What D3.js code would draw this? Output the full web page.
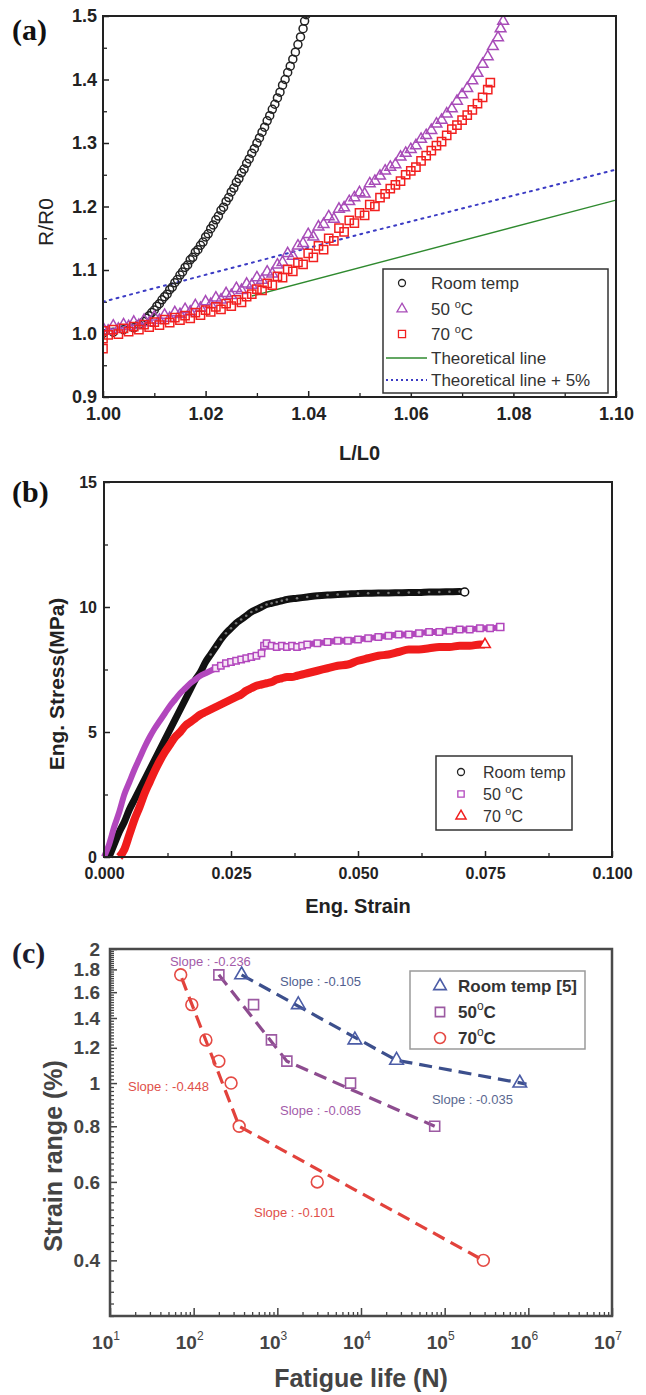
<!DOCTYPE html>
<html>
<head>
<meta charset="utf-8">
<script src="https://cdn.jsdelivr.net/npm/d3@7"></script>
<style>
body { margin: 0; background: #fff; }
svg { display: block; }
</style>
</head>
<body>
<svg id="fig" width="646" height="1395"></svg>
<script>
// ---------- panel (a): R/R0 vs L/L0 ----------
var roomA = [[1.000,1.000],[1.002,1.002],[1.004,1.006],[1.006,1.009],[1.007,1.014],[1.008,1.019],[1.0085,1.024],[1.009,1.028],[1.0095,1.033],[1.010,1.037],[1.0105,1.043],[1.011,1.047],[1.0115,1.053],[1.012,1.058],[1.0125,1.062],[1.013,1.069],[1.0135,1.073],[1.014,1.080],[1.0145,1.085],[1.015,1.092],[1.0155,1.097],[1.016,1.104],[1.0165,1.108],[1.017,1.116],[1.0175,1.120],[1.018,1.128],[1.0185,1.132],[1.019,1.139],[1.0195,1.144],[1.020,1.152],[1.0205,1.157],[1.021,1.165],[1.0215,1.171],[1.022,1.179],[1.0225,1.185],[1.023,1.194],[1.0235,1.199],[1.024,1.208],[1.0245,1.214],[1.025,1.223],[1.0255,1.229],[1.026,1.238],[1.0265,1.244],[1.027,1.253],[1.0275,1.259],[1.028,1.268],[1.0285,1.275],[1.029,1.284],[1.0295,1.291],[1.030,1.300],[1.0305,1.308],[1.031,1.317],[1.0315,1.325],[1.032,1.335],[1.0325,1.343],[1.033,1.353],[1.0335,1.361],[1.034,1.371],[1.0345,1.380],[1.035,1.391],[1.0355,1.400],[1.036,1.411],[1.0365,1.421],[1.037,1.432],[1.0375,1.443],[1.038,1.455],[1.0385,1.467],[1.039,1.480],[1.0393,1.492],[1.0396,1.502]]

var fiftyA = [[1.000,1.008],[1.001,1.004],[1.002,1.012],[1.003,1.007],[1.004,1.014],[1.005,1.011],[1.006,1.018],[1.007,1.013],[1.008,1.021],[1.009,1.017],[1.010,1.026],[1.011,1.021],[1.012,1.029],[1.013,1.024],[1.014,1.033],[1.015,1.030],[1.016,1.038],[1.017,1.034],[1.018,1.044],[1.019,1.040],[1.020,1.050],[1.021,1.046],[1.022,1.056],[1.023,1.053],[1.024,1.063],[1.025,1.060],[1.026,1.071],[1.027,1.068],[1.028,1.078],[1.029,1.076],[1.030,1.088],[1.031,1.084],[1.032,1.097],[1.033,1.094],[1.034,1.108],[1.035,1.112],[1.036,1.126],[1.037,1.122],[1.038,1.138],[1.039,1.142],[1.040,1.156],[1.041,1.152],[1.042,1.168],[1.043,1.172],[1.044,1.184],[1.045,1.180],[1.046,1.196],[1.047,1.198],[1.048,1.208],[1.049,1.214],[1.050,1.222],[1.051,1.220],[1.052,1.236],[1.053,1.240],[1.054,1.248],[1.055,1.256],[1.056,1.262],[1.057,1.266],[1.058,1.278],[1.059,1.284],[1.060,1.290],[1.061,1.296],[1.062,1.306],[1.063,1.312],[1.064,1.320],[1.065,1.330],[1.066,1.336],[1.067,1.346],[1.068,1.354],[1.069,1.366],[1.070,1.376],[1.071,1.386],[1.072,1.398],[1.073,1.410],[1.074,1.424],[1.075,1.436],[1.076,1.452],[1.077,1.466],[1.0775,1.480],[1.078,1.492]]

var seventyA = [[1.000,0.976],[1.000,0.992],[1.000,1.004],[1.001,0.998],[1.002,1.006],[1.003,0.999],[1.004,1.008],[1.005,1.003],[1.006,1.011],[1.007,1.006],[1.008,1.014],[1.009,1.010],[1.010,1.018],[1.011,1.013],[1.012,1.022],[1.013,1.017],[1.014,1.025],[1.015,1.021],[1.016,1.028],[1.017,1.024],[1.018,1.033],[1.019,1.029],[1.020,1.037],[1.021,1.034],[1.022,1.042],[1.023,1.038],[1.024,1.047],[1.025,1.043],[1.026,1.053],[1.027,1.049],[1.028,1.058],[1.029,1.062],[1.030,1.070],[1.031,1.068],[1.032,1.079],[1.033,1.076],[1.034,1.090],[1.035,1.088],[1.036,1.101],[1.037,1.098],[1.038,1.112],[1.039,1.109],[1.040,1.126],[1.041,1.120],[1.042,1.138],[1.043,1.132],[1.044,1.150],[1.045,1.146],[1.046,1.166],[1.047,1.160],[1.048,1.178],[1.049,1.174],[1.050,1.190],[1.051,1.186],[1.052,1.203],[1.053,1.200],[1.054,1.214],[1.055,1.220],[1.056,1.228],[1.057,1.234],[1.058,1.240],[1.059,1.250],[1.060,1.256],[1.061,1.262],[1.062,1.272],[1.063,1.280],[1.064,1.288],[1.065,1.296],[1.066,1.302],[1.067,1.312],[1.068,1.322],[1.069,1.328],[1.070,1.336],[1.071,1.344],[1.072,1.352],[1.073,1.362],[1.074,1.372],[1.075,1.384],[1.0755,1.395]]

var theoryA = [[1.029,1.059],[1.10,1.21]]
var theoryPlusA = [[1.00,1.05],[1.05,1.156],[1.10,1.258]]

var xTicksA = [1.00,1.02,1.04,1.06,1.08,1.10]
var xMinorA = [1.01,1.03,1.05,1.07,1.09]
var yTicksA = [0.9,1.0,1.1,1.2,1.3,1.4,1.5]
var yMinorA = [0.95,1.05,1.15,1.25,1.35,1.45]

// ---------- panel (b): stress vs strain ----------
var roomB = [[0.001,0.0],[0.002,0.5],[0.003,1.0],[0.004,1.4],[0.005,1.9],[0.006,2.3],[0.007,2.7],[0.008,3.1],[0.009,3.5],[0.010,3.9],[0.011,4.3],[0.012,4.7],[0.013,5.1],[0.014,5.5],[0.015,5.9],[0.016,6.3],[0.017,6.7],[0.018,7.1],[0.019,7.4],[0.020,7.8],[0.021,8.1],[0.022,8.4],[0.023,8.7],[0.024,8.95],[0.025,9.15],[0.026,9.35],[0.027,9.5],[0.028,9.65],[0.029,9.8],[0.030,9.9],[0.031,10.0],[0.032,10.1],[0.033,10.15],[0.034,10.2],[0.035,10.25],[0.036,10.3],[0.038,10.35],[0.040,10.4],[0.042,10.45],[0.044,10.48],[0.046,10.5],[0.048,10.52],[0.050,10.54],[0.052,10.55],[0.054,10.56],[0.056,10.56],[0.058,10.57],[0.060,10.58],[0.062,10.58],[0.064,10.6],[0.066,10.6],[0.068,10.61],[0.070,10.62],[0.071,10.6]]

var fiftyB = [[0.000,0.0],[0.001,0.5],[0.002,1.2],[0.003,1.8],[0.004,2.5],[0.005,3.0],[0.006,3.5],[0.007,3.95],[0.008,4.4],[0.009,4.8],[0.010,5.15],[0.011,5.45],[0.012,5.75],[0.013,6.05],[0.014,6.3],[0.015,6.55],[0.016,6.75],[0.017,6.95],[0.018,7.1],[0.019,7.25],[0.020,7.35],[0.021,7.45],[0.022,7.55],[0.023,7.65],[0.024,7.75],[0.025,7.8],[0.026,7.85],[0.027,7.9],[0.028,7.95],[0.029,8.0],[0.030,8.05],[0.031,8.15],[0.0315,8.45],[0.032,8.55],[0.033,8.45],[0.034,8.4],[0.035,8.45],[0.036,8.4],[0.037,8.45],[0.038,8.4],[0.039,8.45],[0.040,8.5],[0.042,8.55],[0.044,8.6],[0.046,8.65],[0.048,8.65],[0.050,8.7],[0.052,8.75],[0.054,8.8],[0.056,8.85],[0.058,8.9],[0.060,8.9],[0.062,8.95],[0.064,9.0],[0.066,9.0],[0.068,9.05],[0.070,9.1],[0.072,9.1],[0.074,9.15],[0.076,9.15],[0.078,9.2]]

var seventyB = [[0.003,0.0],[0.004,0.3],[0.005,0.9],[0.006,1.5],[0.007,2.0],[0.008,2.55],[0.009,3.0],[0.010,3.45],[0.011,3.85],[0.012,4.2],[0.013,4.5],[0.014,4.8],[0.015,5.0],[0.016,5.25],[0.017,5.4],[0.018,5.55],[0.019,5.7],[0.020,5.8],[0.021,5.9],[0.022,6.0],[0.023,6.1],[0.024,6.2],[0.025,6.3],[0.026,6.4],[0.027,6.5],[0.028,6.65],[0.029,6.75],[0.030,6.85],[0.031,6.9],[0.032,6.95],[0.033,7.0],[0.034,7.1],[0.035,7.15],[0.036,7.2],[0.037,7.2],[0.038,7.25],[0.039,7.3],[0.040,7.35],[0.042,7.45],[0.044,7.55],[0.046,7.65],[0.048,7.7],[0.050,7.85],[0.052,7.95],[0.054,8.05],[0.056,8.1],[0.058,8.2],[0.060,8.3],[0.062,8.3],[0.064,8.35],[0.066,8.4],[0.068,8.4],[0.070,8.45],[0.072,8.45],[0.074,8.5],[0.075,8.5]]

var xTicksB = [0,0.025,0.05,0.075,0.1]
var xMinorB = [0.0125,0.0375,0.0625,0.0875]
var yTicksB = [0,5,10,15]
var yMinorB = [2.5,7.5,12.5]

// ---------- panel (c): strain range vs fatigue life ----------
var roomC = [[374,1.75],[1780,1.5],[8450,1.25],[26600,1.125],[790000,1.0]]
var fiftyC = [[200,1.75],[520,1.5],[850,1.25],[1300,1.12],[7500,1.0],[76000,0.8]]
var seventyC = [[70,1.75],[95,1.5],[140,1.25],[200,1.12],[280,1.0],[350,0.8],[3000,0.6],[290000,0.4]]

// fitted lines (two slopes each)
var roomFitC = [[374,1.75],[26600,1.125],[950000,0.995]]
var fiftyFitC = [[200,1.75],[1300,1.12],[76000,0.8]]
var seventyFitC = [[72,1.72],[350,0.8],[290000,0.4]]

var slopeNotes = [
   {text: "Slope : -0.236", n: 52, s: 1.83, color: "#a35ba9"},
   {text: "Slope : -0.105", n: 1076, s: 1.652, color: "#51608f"},
   {text: "Slope : -0.448", n: 16.4, s: 0.96, color: "#e0504a"},
   {text: "Slope : -0.085", n: 1076, s: 0.848, color: "#a35ba9"},
   {text: "Slope : -0.035", n: 70500, s: 0.897, color: "#5a6890"},
   {text: "Slope : -0.101", n: 526, s: 0.50, color: "#e0504a"}
]

var yTicksC = [0.4,0.6,0.8,1,1.2,1.4,1.6,1.8,2]
var xExpC = [1,2,3,4,5,6,7]

var SANS = "'Liberation Sans', Arial, Helvetica, sans-serif"
var SERIF = "'Liberation Serif', 'Times New Roman', serif"

var svg = d3.select("#fig")

function frame(g, x, y, color, w) {
   g.append("rect")
      .attr("x", x.range()[0])
      .attr("y", y.range()[1])
      .attr("width", x.range()[1] - x.range()[0])
      .attr("height", y.range()[0] - y.range()[1])
      .attr("fill", "none")
      .attr("stroke", color)
      .attr("stroke-width", w)
}

function styleAxis(sel, color, size, weight) {
   sel.select(".domain").remove()
   sel.selectAll(".tick line").attr("stroke", color).attr("stroke-width", 1.5)
   sel.selectAll(".tick text")
      .attr("fill", color)
      .style("font-family", SANS)
      .style("font-size", size + "px")
      .style("font-weight", weight)
}

function minorTicks(g, axis, tr, color) {
   let m = g.append("g").attr("transform", tr).call(axis)
   m.select(".domain").remove()
   m.selectAll(".tick line").attr("stroke", color).attr("stroke-width", 1.3)
}

function panelLabel(txt, x, y, color) {
   svg.append("text")
      .attr("x", x).attr("y", y)
      .attr("fill", color)
      .style("font-family", SERIF)
      .style("font-weight", "bold")
      .style("font-size", "30px")
      .text(txt)
}

function tempText(sel, num) {
   sel.append("tspan").text(num + " ")
   sel.append("tspan").attr("dy", -7).style("font-size", "11px").text("o")
   sel.append("tspan").attr("dy", 7).text("C")
}

// ======================= (a) =======================
var ax = d3.scaleLinear().domain([1.0, 1.1]).range([103, 616])
var ay = d3.scaleLinear().domain([0.9, 1.5]).range([397, 16])
var gA = svg.append("g")

gA.append("g").attr("transform", "translate(0," + ay.range()[0] + ")")
   .call(d3.axisBottom(ax).tickValues(xTicksA).tickFormat(d3.format(".2f")).tickSizeInner(-6).tickSizeOuter(0).tickPadding(10))
   .call(styleAxis, "#222", 18, "bold")
gA.append("g").attr("transform", "translate(" + ax.range()[0] + ",0)")
   .call(d3.axisLeft(ay).tickValues(yTicksA).tickFormat(d3.format(".1f")).tickSizeInner(-6).tickSizeOuter(0).tickPadding(6))
   .call(styleAxis, "#222", 18, "bold")
minorTicks(gA, d3.axisBottom(ax).tickValues(xMinorA).tickFormat("").tickSizeInner(-4).tickSizeOuter(0), "translate(0," + ay.range()[0] + ")", "#222")
minorTicks(gA, d3.axisLeft(ay).tickValues(yMinorA).tickFormat("").tickSizeInner(-4).tickSizeOuter(0), "translate(" + ax.range()[0] + ",0)", "#222")

gA.append("clipPath").attr("id", "clipA").append("rect")
   .attr("x", ax.range()[0]).attr("y", ay.range()[1])
   .attr("width", ax.range()[1] - ax.range()[0]).attr("height", ay.range()[0] - ay.range()[1])
var plotA = gA.append("g").attr("clip-path", "url(#clipA)")

var lineA = d3.line().x(d => ax(d[0])).y(d => ay(d[1]))
plotA.append("path").datum(theoryA).attr("d", lineA)
   .attr("fill", "none").attr("stroke", "#2f8a2f").attr("stroke-width", 1.4)
plotA.append("path").datum(theoryPlusA).attr("d", lineA)
   .attr("fill", "none").attr("stroke", "#3b3bc4").attr("stroke-width", 2).attr("stroke-dasharray", "2,5")
   .attr("stroke-linecap", "round")

plotA.selectAll("circle.room").data(roomA).enter().append("circle")
   .attr("class", "room")
   .attr("cx", d => ax(d[0])).attr("cy", d => ay(d[1]))
   .attr("r", 4).attr("fill", "none").attr("stroke", "#222").attr("stroke-width", 1.5)

plotA.selectAll("path.fifty").data(fiftyA).enter().append("path")
   .attr("class", "fifty")
   .attr("d", d3.symbol().type(d3.symbolTriangle).size(50))
   .attr("transform", d => "translate(" + ax(d[0]) + "," + ay(d[1]) + ")")
   .attr("fill", "none").attr("stroke", "#a84cb8").attr("stroke-width", 1.5)

plotA.selectAll("path.seventy").data(seventyA).enter().append("path")
   .attr("class", "seventy")
   .attr("d", d3.symbol().type(d3.symbolSquare).size(68))
   .attr("transform", d => "translate(" + ax(d[0]) + "," + ay(d[1]) + ")")
   .attr("fill", "none").attr("stroke", "#f22020").attr("stroke-width", 1.5)

frame(gA, ax, ay, "#222", 2)

// legend (a)
var legA = gA.append("g")
legA.append("rect").attr("x", 383).attr("y", 269).attr("width", 225).attr("height", 124)
   .attr("fill", "#fff").attr("stroke", "#333").attr("stroke-width", 1.5)
var legAItems = [
   {label: "Room temp", kind: "circle", color: "#222"},
   {label: "50", kind: "tri", color: "#a84cb8"},
   {label: "70", kind: "sq", color: "#f22020"},
   {label: "Theoretical line", kind: "line", color: "#2f8a2f"},
   {label: "Theoretical line + 5%", kind: "dot", color: "#3b3bc4"}
]
var legAy = [283, 309, 334, 358, 380]
legAItems.forEach(function(it, i) {
   let y = legAy[i]
   if(it.kind == "circle") {
      legA.append("circle").attr("cx", 402).attr("cy", y).attr("r", 3.5)
         .attr("fill", "none").attr("stroke", it.color).attr("stroke-width", 1.3)
   } else if(it.kind == "tri" || it.kind == "sq") {
      legA.append("path")
         .attr("d", d3.symbol().type(it.kind == "tri" ? d3.symbolTriangle : d3.symbolSquare).size(it.kind == "tri" ? 44 : 50))
         .attr("transform", "translate(402," + y + ")")
         .attr("fill", "none").attr("stroke", it.color).attr("stroke-width", 1.3)
   } else {
      legA.append("line").attr("x1", 386).attr("x2", 427).attr("y1", y).attr("y2", y)
         .attr("stroke", it.color).attr("stroke-width", it.kind == "dot" ? 2 : 1.4)
         .attr("stroke-dasharray", it.kind == "dot" ? "2,3" : null)
   }
   let t = legA.append("text").attr("x", 431).attr("y", y + 6)
      .attr("fill", "#333").style("font-family", SANS).style("font-size", "17px")
   if(it.kind == "tri" || it.kind == "sq") tempText(t, it.label)
   else t.text(it.label)
})

gA.append("text").attr("x", d3.mean(ax.range())).attr("y", 460)
   .attr("text-anchor", "middle").attr("fill", "#222")
   .style("font-family", SANS).style("font-size", "20px").style("font-weight", "bold")
   .text("L/L0")
gA.append("text").attr("transform", "translate(53,222) rotate(-90)")
   .attr("text-anchor", "middle").attr("fill", "#222")
   .style("font-family", SANS).style("font-size", "21px")
   .text("R/R0")
panelLabel("(a)", 12, 40, "#111")

// ======================= (b) =======================
var bx = d3.scaleLinear().domain([0, 0.1]).range([104, 612])
var by = d3.scaleLinear().domain([0, 15]).range([857, 482])
var gB = svg.append("g")

gB.append("g").attr("transform", "translate(0," + by.range()[0] + ")")
   .call(d3.axisBottom(bx).tickValues(xTicksB).tickFormat(d3.format(".3f")).tickSizeInner(-6).tickSizeOuter(0).tickPadding(11))
   .call(styleAxis, "#222", 16, "bold")
gB.append("g").attr("transform", "translate(" + bx.range()[0] + ",0)")
   .call(d3.axisLeft(by).tickValues(yTicksB).tickFormat(d3.format("d")).tickSizeInner(-6).tickSizeOuter(0).tickPadding(7))
   .call(styleAxis, "#222", 16, "bold")
minorTicks(gB, d3.axisBottom(bx).tickValues(xMinorB).tickFormat("").tickSizeInner(-4).tickSizeOuter(0), "translate(0," + by.range()[0] + ")", "#222")
minorTicks(gB, d3.axisLeft(by).tickValues(yMinorB).tickFormat("").tickSizeInner(-4).tickSizeOuter(0), "translate(" + bx.range()[0] + ",0)", "#222")

var lineB = d3.line().x(d => bx(d[0])).y(d => by(d[1])).curve(d3.curveMonotoneX)

// room temp (black circles)
gB.append("path").datum(roomB).attr("d", lineB)
   .attr("fill", "none").attr("stroke", "#111").attr("stroke-width", 7).attr("stroke-linejoin", "round")
gB.selectAll("circle.roomB").data(roomB.slice(20)).enter().append("circle")
   .attr("class", "roomB")
   .attr("cx", d => bx(d[0])).attr("cy", d => by(d[1])).attr("r", 1.3)
   .attr("fill", "#777").attr("stroke", "none")

// 70 C (red triangles)
gB.append("path").datum(seventyB).attr("d", lineB)
   .attr("fill", "none").attr("stroke", "#f01c1c").attr("stroke-width", 8).attr("stroke-linejoin", "round")

// 50 C (purple squares)
gB.append("path").datum(fiftyB).attr("d", lineB)
   .attr("fill", "none").attr("stroke", "#b247bd").attr("stroke-width", 6).attr("stroke-linejoin", "round")
gB.selectAll("path.fiftyB").data(fiftyB.slice(22)).enter().append("path")
   .attr("class", "fiftyB")
   .attr("d", d3.symbol().type(d3.symbolSquare).size(40))
   .attr("transform", d => "translate(" + bx(d[0]) + "," + by(d[1]) + ")")
   .attr("fill", "#f6e6f6").attr("stroke", "#b247bd").attr("stroke-width", 1.5)

// end markers
var lastRoom = roomB[roomB.length - 1]
gB.append("circle").attr("cx", bx(lastRoom[0])).attr("cy", by(lastRoom[1])).attr("r", 4)
   .attr("fill", "#fff").attr("stroke", "#111").attr("stroke-width", 1.5)
var lastSev = seventyB[seventyB.length - 1]
gB.append("path").attr("d", d3.symbol().type(d3.symbolTriangle).size(50))
   .attr("transform", "translate(" + bx(lastSev[0]) + "," + by(lastSev[1]) + ")")
   .attr("fill", "#fff").attr("stroke", "#f01c1c").attr("stroke-width", 1.5)
var lastFif = fiftyB[fiftyB.length - 1]
gB.append("path").attr("d", d3.symbol().type(d3.symbolSquare).size(50))
   .attr("transform", "translate(" + bx(lastFif[0]) + "," + by(lastFif[1]) + ")")
   .attr("fill", "#fff").attr("stroke", "#b247bd").attr("stroke-width", 1.5)

frame(gB, bx, by, "#222", 2)

// legend (b)
var legB = gB.append("g")
legB.append("rect").attr("x", 436).attr("y", 756).attr("width", 136).attr("height", 74)
   .attr("fill", "#fff").attr("stroke", "#333").attr("stroke-width", 1.5)
var legBy = [772, 794, 816]
legB.append("circle").attr("cx", 461).attr("cy", legBy[0]).attr("r", 3.5)
   .attr("fill", "none").attr("stroke", "#222").attr("stroke-width", 1.3)
legB.append("path").attr("d", d3.symbol().type(d3.symbolSquare).size(40))
   .attr("transform", "translate(461," + legBy[1] + ")")
   .attr("fill", "none").attr("stroke", "#b247bd").attr("stroke-width", 1.3)
legB.append("path").attr("d", d3.symbol().type(d3.symbolTriangle).size(44))
   .attr("transform", "translate(461," + legBy[2] + ")")
   .attr("fill", "none").attr("stroke", "#f01c1c").attr("stroke-width", 1.5)
legB.append("text").attr("x", 483).attr("y", legBy[0] + 6).attr("fill", "#333")
   .style("font-family", SANS).style("font-size", "16px").text("Room temp")
tempText(legB.append("text").attr("x", 483).attr("y", legBy[1] + 6).attr("fill", "#333")
   .style("font-family", SANS).style("font-size", "16px"), "50")
tempText(legB.append("text").attr("x", 483).attr("y", legBy[2] + 6).attr("fill", "#333")
   .style("font-family", SANS).style("font-size", "16px"), "70")

gB.append("text").attr("x", d3.mean(bx.range())).attr("y", 913)
   .attr("text-anchor", "middle").attr("fill", "#222")
   .style("font-family", SANS).style("font-size", "20px").style("font-weight", "bold")
   .text("Eng. Strain")
gB.append("text").attr("transform", "translate(64,684) rotate(-90)")
   .attr("text-anchor", "middle").attr("fill", "#222")
   .style("font-family", SANS).style("font-size", "21px").style("font-weight", "bold")
   .text("Eng. Stress(MPa)")
panelLabel("(b)", 12, 502, "#111")

// ======================= (c) =======================
var cx = d3.scaleLog().domain([10, 1e7]).range([110, 612])
var cy = d3.scaleLog().domain([0.3, 2]).range([1316, 949])
var gC = svg.append("g")
var greyC = "#444"

var yMinorC = d3.range(30, 201, 2).map(v => v / 100).filter(v => yTicksC.indexOf(v) < 0)
var xMinorC = []
xExpC.slice(0, -1).forEach(function(e) {
   for(let k = 2; k < 10; k++) xMinorC.push(k * Math.pow(10, e))
})

gC.append("g").attr("transform", "translate(" + cx.range()[0] + ",0)")
   .call(d3.axisLeft(cy).tickValues(yTicksC).tickFormat(d => String(d)).tickSizeInner(-7).tickSizeOuter(0).tickPadding(10))
   .call(styleAxis, greyC, 19, "bold")
minorTicks(gC, d3.axisLeft(cy).tickValues(yMinorC).tickFormat("").tickSizeInner(-4).tickSizeOuter(0), "translate(" + cx.range()[0] + ",0)", greyC)
gC.append("g").attr("transform", "translate(0," + cy.range()[0] + ")")
   .call(d3.axisBottom(cx).tickValues(xExpC.map(e => Math.pow(10, e))).tickFormat("").tickSizeInner(-8).tickSizeOuter(0))
   .call(styleAxis, greyC, 19, "bold")
minorTicks(gC, d3.axisBottom(cx).tickValues(xMinorC).tickFormat("").tickSizeInner(-4).tickSizeOuter(0), "translate(0," + cy.range()[0] + ")", greyC)

// decade labels 10^n
gC.selectAll("text.dec").data(xExpC).enter().append("text")
   .attr("class", "dec")
   .attr("x", d => cx(Math.pow(10, d)) - 4)
   .attr("y", 1349)
   .attr("text-anchor", "middle")
   .attr("fill", greyC)
   .style("font-family", SANS).style("font-size", "19px").style("font-weight", "bold")
   .each(function(d) {
      let t = d3.select(this)
      t.append("tspan").text("10")
      t.append("tspan").attr("dy", -9).style("font-size", "12px").style("font-weight", "normal").text(d)
   })

var lineC = d3.line().x(d => cx(d[0])).y(d => cy(d[1]))
var seriesC = [
   {pts: roomC, fit: roomFitC, line: "#3c4f8c", mark: "#4b5ca6", sym: d3.symbolTriangle, size: 80},
   {pts: fiftyC, fit: fiftyFitC, line: "#8d4c8f", mark: "#9c5aa2", sym: d3.symbolSquare, size: 100},
   {pts: seventyC, fit: seventyFitC, line: "#e2423c", mark: "#e54a44", sym: d3.symbolCircle, size: 110}
]
seriesC.forEach(function(s) {
   gC.append("path").datum(s.fit).attr("d", lineC)
      .attr("fill", "none").attr("stroke", s.line).attr("stroke-width", 3.2)
      .attr("stroke-dasharray", "13,7")
   gC.selectAll(null).data(s.pts).enter().append("path")
      .attr("d", d3.symbol().type(s.sym).size(s.size))
      .attr("transform", d => "translate(" + cx(d[0]) + "," + cy(d[1]) + ")")
      .attr("fill", "none").attr("stroke", s.mark).attr("stroke-width", 1.6)
})

gC.selectAll("text.slope").data(slopeNotes).enter().append("text")
   .attr("class", "slope")
   .attr("x", d => cx(d.n)).attr("y", d => cy(d.s))
   .attr("fill", d => d.color)
   .style("font-family", SANS).style("font-size", "13px")
   .text(d => d.text)

frame(gC, cx, cy, "#4a4a4a", 2.5)

// legend (c)
var legC = gC.append("g")
legC.append("rect").attr("x", 410).attr("y", 971).attr("width", 175).attr("height", 78)
   .attr("fill", "#fff").attr("stroke", "#9a9a9a").attr("stroke-width", 1.5)
var legCy = [986, 1012, 1038]
var legCLabels = ["Room temp [5]", "50", "70"]
seriesC.forEach(function(s, i) {
   legC.append("path").attr("d", d3.symbol().type(s.sym).size(s.size * 0.85))
      .attr("transform", "translate(440," + legCy[i] + ")")
      .attr("fill", "none").attr("stroke", s.mark).attr("stroke-width", 1.6)
   let t = legC.append("text").attr("x", 458).attr("y", legCy[i] + 6)
      .attr("fill", "#333")
      .style("font-family", SANS).style("font-size", "17px").style("font-weight", "bold")
   if(i == 0) {
      t.text(legCLabels[i])
   } else {
      t.append("tspan").text(legCLabels[i])
      t.append("tspan").attr("dy", -8).style("font-size", "12px").style("font-weight", "normal").text("o")
      t.append("tspan").attr("dy", 8).text("C")
   }
})

gC.append("text").attr("x", d3.mean(cx.range())).attr("y", 1387)
   .attr("text-anchor", "middle").attr("fill", greyC)
   .style("font-family", SANS).style("font-size", "25px").style("font-weight", "bold")
   .text("Fatigue life (N)")
gC.append("text").attr("transform", "translate(62,1156) rotate(-90)")
   .attr("text-anchor", "middle").attr("fill", greyC)
   .style("font-family", SANS).style("font-size", "25px").style("font-weight", "bold")
   .text("Strain range (%)")
panelLabel("(c)", 12, 963, "#1c1c30")
</script>
</body>
</html>
